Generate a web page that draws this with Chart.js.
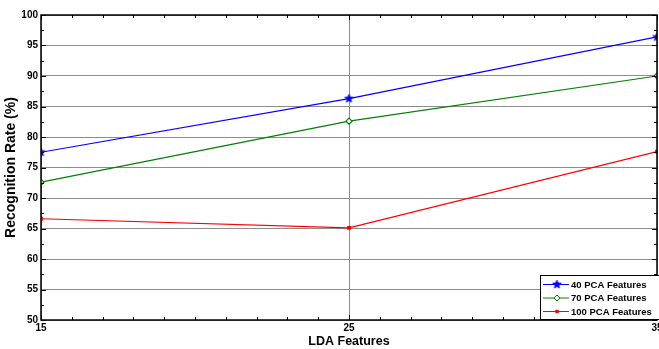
<!DOCTYPE html>
<html><head><meta charset="utf-8">
<script src="https://cdn.jsdelivr.net/npm/chart.js@4.4.0/dist/chart.umd.min.js"></script>
<style>html,body{margin:0;padding:0;background:#fff;overflow:hidden;width:659px;height:349px}</style>
</head><body>
<canvas id="c" width="672" height="349" style="width:672px;height:349px;display:block"></canvas>
<script>
const ldaFeatures = [15, 25, 35];
const pca40 = [77.5, 86.3, 96.4];
const pca70 = [72.6, 82.6, 90.0];
const pca100 = [66.6, 65.1, 77.6];
const seriesLabels = ['40 PCA Features', '70 PCA Features', '100 PCA Features'];
const yTicks = [50, 55, 60, 65, 70, 75, 80, 85, 90, 95, 100];
const xTicks = [15, 25, 35];

function pentagram(color, r) {
  const c = document.createElement('canvas');
  const s = Math.ceil(r * 2 + 2);
  c.width = s; c.height = s;
  const g = c.getContext('2d');
  g.fillStyle = color; g.strokeStyle = color; g.lineWidth = 0.8;
  g.beginPath();
  for (let i = 0; i < 10; i++) {
    const rr = i % 2 === 0 ? r : r * 0.42;
    const a = -Math.PI / 2 + i * Math.PI / 5;
    const x = s / 2 + rr * Math.cos(a), y = s / 2 + rr * Math.sin(a);
    i === 0 ? g.moveTo(x, y) : g.lineTo(x, y);
  }
  g.closePath(); g.fill(); g.stroke();
  return c;
}
const starImg = pentagram('#0000ff', 4.5);

const framePlugin = {
  id: 'frame',
  afterDraw(chart) {
    const {ctx, chartArea: a, scales: {x, y}} = chart;
    ctx.save();
    ctx.strokeStyle = '#000'; ctx.lineWidth = 1;
    ctx.beginPath();
    for (let v = 15; v <= 35; v += 1) {
      const px = Math.round(x.getPixelForValue(v)) + 0.5;
      const len = (v % 10 === 5) ? 5 : 3;
      ctx.moveTo(px, a.bottom); ctx.lineTo(px, a.bottom - len);
      ctx.moveTo(px, a.top); ctx.lineTo(px, a.top + len);
    }
    for (let v = 50; v <= 100; v += 2.5) {
      const py = Math.round(y.getPixelForValue(v)) + 0.5;
      const len = (v % 5 === 0) ? 5 : 3;
      ctx.moveTo(a.left, py); ctx.lineTo(a.left + len, py);
      ctx.moveTo(a.right, py); ctx.lineTo(a.right - len, py);
    }
    ctx.stroke();
    ctx.lineWidth = 1.5;
    ctx.strokeRect(a.left, a.top, a.right - a.left, a.bottom - a.top);
    // legend
    const ds = chart.data.datasets;
    const lx = 540, ly = 275, lw = 119, lh = 44;
    ctx.fillStyle = '#fff';
    ctx.fillRect(lx, ly, lw, lh);
    ctx.lineWidth = 1; ctx.strokeStyle = '#000';
    ctx.strokeRect(lx + 0.5, ly + 0.5, lw, lh);
    ctx.font = 'bold 9.5px "Liberation Sans", Arial, sans-serif';
    ctx.textBaseline = 'middle';
    ds.forEach((d, i) => {
      const cy = ly + 9 + i * 13.5;
      ctx.strokeStyle = d.borderColor; ctx.lineWidth = 1;
      ctx.beginPath(); ctx.moveTo(lx + 3, cy + 0.5); ctx.lineTo(lx + 29, cy + 0.5); ctx.stroke();
      ctx.fillStyle = d.backgroundColor;
      ctx.strokeStyle = d.borderColor;
      Chart.helpers.drawPoint(ctx, {pointStyle: d.pointStyle, radius: d.pointRadius, borderWidth: d.pointBorderWidth || 1, rotation: 0}, lx + 17, cy + 0.5);
      ctx.fillStyle = '#000';
      ctx.fillText(d.label, lx + 31, cy + 1);
    });
    ctx.restore();
  }
};

new Chart(document.getElementById('c'), {
  type: 'line',
  data: {
    datasets: [
      {label: seriesLabels[0], data: ldaFeatures.map((v, i) => ({x: v, y: pca40[i]})), borderColor: '#0000ff', backgroundColor: '#0000ff', borderWidth: 1.2, pointStyle: starImg, pointRadius: 4},
      {label: seriesLabels[1], data: ldaFeatures.map((v, i) => ({x: v, y: pca70[i]})), borderColor: '#008000', backgroundColor: '#ffffff', borderWidth: 1.2, pointStyle: 'rectRot', pointRadius: 3, pointBorderWidth: 1.2},
      {label: seriesLabels[2], data: ldaFeatures.map((v, i) => ({x: v, y: pca100[i]})), borderColor: '#ff0000', backgroundColor: '#ff0000', borderWidth: 1.2, pointStyle: 'rect', pointRadius: 1.8}
    ]
  },
  options: {
    responsive: false, animation: false, devicePixelRatio: 1,
    layout: {padding: {top: 15, right: 15, left: 0, bottom: 0}},
    plugins: {legend: {display: false}, tooltip: {enabled: false}},
    scales: {
      x: {
        type: 'linear', min: 15, max: 35,
        afterBuildTicks: s => { s.ticks = xTicks.map(v => ({value: v})); },
        afterFit: s => { s.height = 29; },
        grid: {color: '#8c8c8c', lineWidth: 1, drawTicks: false},
        border: {display: false},
        ticks: {color: '#000', font: {family: '"Liberation Sans", Arial, sans-serif', size: 10, weight: 'bold'}, padding: 2, maxRotation: 0},
        title: {display: true, text: 'LDA Features', color: '#000', font: {family: '"Liberation Sans", Arial, sans-serif', size: 12.5, weight: 'bold'}, padding: {top: 0, bottom: 0}}
      },
      y: {
        min: 50, max: 100,
        afterBuildTicks: s => { s.ticks = yTicks.map(v => ({value: v})); },
        afterFit: s => { s.width = 41; },
        grid: {color: '#8c8c8c', lineWidth: 1, drawTicks: false},
        border: {display: false},
        ticks: {color: '#000', font: {family: '"Liberation Sans", Arial, sans-serif', size: 10, weight: 'bold'}, padding: 3},
        title: {display: true, text: 'Recognition Rate (%)', color: '#000', font: {family: '"Liberation Sans", Arial, sans-serif', size: 14, weight: 'bold'}, padding: {top: 3, bottom: 0}}
      }
    }
  },
  plugins: [framePlugin]
});
</script>
</body></html>
